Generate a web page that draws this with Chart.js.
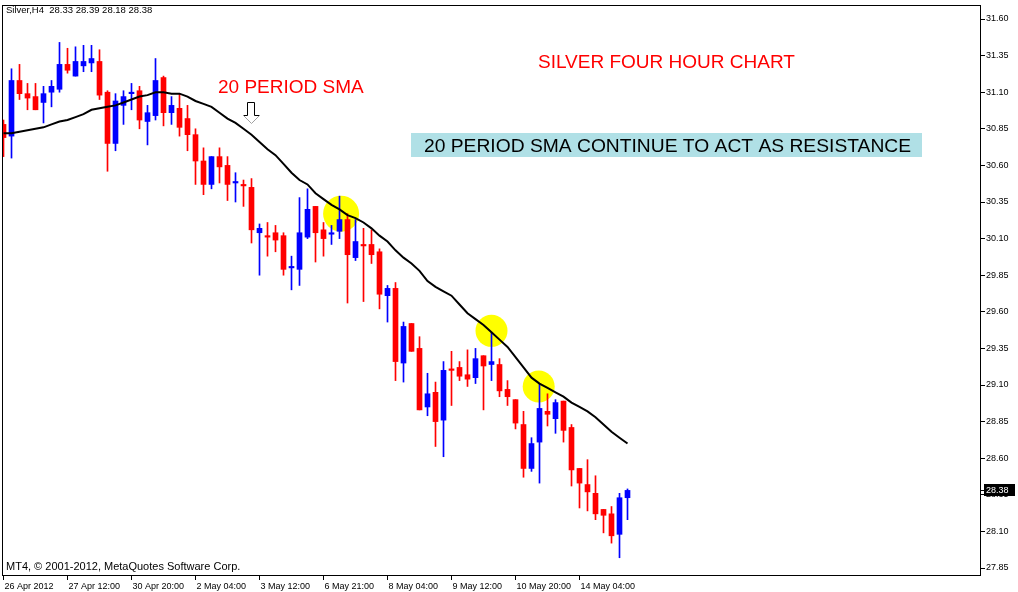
<!DOCTYPE html>
<html>
<head>
<meta charset="utf-8">
<script src="https://cdn.jsdelivr.net/npm/chart.js@4.4.1/dist/chart.umd.min.js"></script>
<style>
  html, body { margin: 0; padding: 0; background: #fff; }
</style>
</head>
<body>
<canvas id="chart" width="1018" height="592"></canvas>
<script>
// H4 candles, Silver, 26 Apr - 15 May 2012
const open = [
  30.88, 30.80, 31.18, 31.09, 31.07, 31.03, 31.10, 31.12, 31.29, 31.21,
  31.28, 31.30, 31.31, 31.10, 30.75, 31.01, 31.09, 31.11, 30.90, 30.94,
  31.20, 30.96, 30.99, 30.92, 30.81, 30.63, 30.47, 30.66, 30.60, 30.48,
  30.47, 30.45, 30.14, 30.12, 30.14, 30.12, 29.90, 29.89, 30.11, 30.32,
  30.16, 30.13, 30.15, 30.23, 29.97, 30.06, 30.06, 30.01, 29.71, 29.76,
  29.25, 29.52, 29.35, 28.95, 29.05, 28.86, 29.21, 29.22, 29.17, 29.15,
  29.30, 29.24, 29.24, 29.07, 29.00, 28.83, 28.53, 28.71, 28.92, 28.87,
  28.99, 28.81, 28.53, 28.42, 28.36, 28.25, 28.22, 28.08, 28.33
];
const high = [
  30.91, 31.26, 31.29, 31.16, 31.16, 31.14, 31.18, 31.44, 31.40, 31.41,
  31.42, 31.42, 31.39, 31.11, 31.09, 31.11, 31.16, 31.14, 31.01, 31.33,
  31.21, 31.07, 31.09, 31.01, 30.85, 30.72, 30.66, 30.72, 30.66, 30.55,
  30.50, 30.51, 30.20, 30.21, 30.19, 30.14, 29.98, 30.38, 30.44, 30.32,
  30.21, 30.19, 30.39, 30.27, 30.23, 30.17, 30.16, 30.03, 29.78, 29.80,
  29.53, 29.52, 29.43, 29.18, 29.12, 29.26, 29.33, 29.26, 29.34, 29.35,
  29.30, 29.46, 29.28, 29.13, 29.00, 28.92, 28.74, 29.11, 29.04, 29.00,
  28.99, 28.83, 28.53, 28.59, 28.48, 28.25, 28.27, 28.36, 28.39
];
const low = [
  30.66, 30.65, 31.05, 30.98, 30.98, 30.89, 31.00, 31.10, 31.23, 31.21,
  31.24, 31.24, 31.05, 30.56, 30.70, 30.88, 30.98, 30.85, 30.74, 30.91,
  30.87, 30.88, 30.80, 30.70, 30.47, 30.40, 30.44, 30.48, 30.36, 30.35,
  30.32, 30.07, 29.85, 29.98, 30.01, 29.85, 29.75, 29.78, 30.10, 29.94,
  29.98, 30.06, 30.10, 29.66, 29.95, 29.67, 29.93, 29.62, 29.53, 29.13,
  29.12, 29.33, 28.93, 28.89, 28.68, 28.61, 28.96, 29.13, 29.09, 29.11,
  28.93, 29.13, 29.02, 28.96, 28.80, 28.47, 28.51, 28.43, 28.82, 28.77,
  28.71, 28.41, 28.26, 28.24, 28.18, 28.09, 28.02, 27.92, 28.18
];
const close = [
  30.79, 31.18, 31.09, 31.06, 30.98, 31.09, 31.14, 31.29, 31.25, 31.31,
  31.31, 31.33, 31.08, 30.75, 31.04, 31.07, 31.10, 30.91, 30.96, 31.18,
  30.96, 31.01, 30.86, 30.81, 30.63, 30.47, 30.66, 30.59, 30.47, 30.49,
  30.46, 30.16, 30.17, 30.11, 30.09, 29.89, 29.91, 30.14, 30.30, 30.14,
  30.10, 30.14, 30.23, 29.99, 30.08, 30.05, 29.99, 29.72, 29.76, 29.26,
  29.50, 29.33, 28.93, 29.04, 28.85, 29.20, 29.20, 29.16, 29.14, 29.28,
  29.23, 29.26, 29.06, 29.02, 28.84, 28.53, 28.70, 28.94, 28.90, 28.98,
  28.79, 28.52, 28.43, 28.37, 28.22, 28.21, 28.07, 28.33, 28.38
];
// 20 period SMA as drawn on the chart
const sma20 = [
  30.82, 30.82, 30.83, 30.84, 30.85, 30.86, 30.88, 30.90, 30.91, 30.93,
  30.95, 30.98, 30.99, 31.00, 31.01, 31.03, 31.05, 31.07, 31.08, 31.10,
  31.10, 31.09, 31.09, 31.07, 31.04, 31.02, 31.00, 30.96, 30.92, 30.89,
  30.85, 30.81, 30.76, 30.71, 30.67, 30.61, 30.55, 30.50, 30.47, 30.41,
  30.37, 30.33, 30.30, 30.26, 30.24, 30.21, 30.17, 30.12, 30.08, 30.02,
  29.97, 29.93, 29.88, 29.81, 29.77, 29.74, 29.71, 29.65, 29.59, 29.55,
  29.51, 29.46, 29.41, 29.36, 29.29, 29.22, 29.15, 29.11, 29.08, 29.05,
  29.02, 28.98, 28.95, 28.92, 28.88, 28.83, 28.78, 28.74, 28.70
];

// time axis: one label every 8 bars
const xTickIdx = [0, 8, 16, 24, 32, 40, 48, 56, 64, 72];
const xTickLabels = [
  "26 Apr 2012", "27 Apr 12:00", "30 Apr 20:00", "2 May 04:00", "3 May 12:00",
  "6 May 21:00", "8 May 04:00", "9 May 12:00", "10 May 20:00", "14 May 04:00"
];
const yTicks = [
  27.85, 28.10, 28.35, 28.60, 28.85, 29.10, 29.35, 29.60,
  29.85, 30.10, 30.35, 30.60, 30.85, 31.10, 31.35, 31.60
];

// yellow highlight circles (bar index, price)
const circleIdx = [42.2, 61.0, 66.9];
const circlePrice = [30.27, 29.47, 29.09];

const BLUE = "#0000ff";
const RED = "#ff0000";
const FONT = '"Liberation Sans", Arial, sans-serif';

const idx = open.map((_, i) => i);
const candleColor = idx.map(i => close[i] > open[i] ? BLUE : RED);
const last = open.length - 1;

const overlay = {
  id: "overlay",
  afterDraw(chart) {
    const { ctx, chartArea: a, scales: { y } } = chart;
    ctx.save();

    // chart frame
    ctx.strokeStyle = "#000";
    ctx.lineWidth = 1;
    ctx.strokeRect(a.left + 0.5, a.top + 0.5, a.right - a.left - 1, a.bottom - a.top - 1);

    // header and copyright
    ctx.fillStyle = "#000";
    ctx.textBaseline = "alphabetic";
    ctx.font = "9.5px " + FONT;
    ctx.fillText("Silver,H4  " + [open[last], high[last], low[last], close[last]].map(v => v.toFixed(2)).join(" "), 6, 13);
    ctx.font = "11px " + FONT;
    ctx.fillText("MT4, \u00a9 2001-2012, MetaQuotes Software Corp.", 6, 570);

    // notes
    ctx.fillStyle = RED;
    ctx.font = "19px " + FONT;
    ctx.fillText("SILVER FOUR HOUR CHART", 538, 68);
    ctx.fillText("20 PERIOD SMA", 218, 93);

    ctx.fillStyle = "#b0e0e6";
    ctx.fillRect(411, 133, 511, 24);
    ctx.fillStyle = "#000";
    ctx.font = "19.25px " + FONT;
    ctx.fillText("20 PERIOD SMA CONTINUE TO ACT AS RESISTANCE", 424, 152);

    // arrow below the SMA label
    ctx.beginPath();
    ctx.moveTo(243.5, 115.5);
    ctx.lineTo(247.5, 115.5);
    ctx.lineTo(247.5, 102.5);
    ctx.lineTo(254.5, 102.5);
    ctx.lineTo(254.5, 115.5);
    ctx.lineTo(259.5, 115.5);
    ctx.strokeStyle = "#000";
    ctx.stroke();
    ctx.beginPath();
    ctx.moveTo(243.5, 115.5);
    ctx.lineTo(251.5, 123.5);
    ctx.lineTo(259.5, 115.5);
    ctx.strokeStyle = "#a0a0a0";
    ctx.stroke();

    // last price marker
    const py = Math.round(y.getPixelForValue(close[last]));
    ctx.fillStyle = "#000";
    ctx.fillRect(a.right, py, 4, 1);
    ctx.fillRect(a.right + 3, py - 6, 31, 12);
    ctx.fillStyle = "#fff";
    ctx.font = "9px " + FONT;
    ctx.textBaseline = "middle";
    ctx.fillText(close[last].toFixed(2), a.right + 5, py + 0.5);

    ctx.restore();
  }
};

new Chart(document.getElementById("chart"), {
  type: "bar",
  data: {
    datasets: [
      {
        type: "line",
        label: "SMA 20",
        data: idx.map(i => ({ x: i, y: sma20[i] })),
        borderColor: "#000",
        borderWidth: 2,
        pointRadius: 0,
        tension: 0,
        clip: 0,
        order: 0
      },
      {
        label: "body",
        data: idx.map(i => ({ x: i, y: [open[i], close[i]] })),
        backgroundColor: candleColor,
        barThickness: 5,
        minBarLength: 1,
        grouped: false,
        clip: 0,
        order: 1
      },
      {
        label: "wick",
        data: idx.map(i => ({ x: i, y: [low[i], high[i]] })),
        backgroundColor: candleColor,
        barThickness: 1,
        grouped: false,
        clip: 0,
        order: 2
      },
      {
        type: "scatter",
        label: "highlight",
        data: circleIdx.map((x, k) => ({ x: x, y: circlePrice[k] })),
        backgroundColor: "#ffff00",
        borderWidth: 0,
        pointRadius: [18, 16, 16],
        order: 3
      }
    ]
  },
  options: {
    responsive: false,
    animation: false,
    events: [],
    layout: { autoPadding: false, padding: { left: 2, top: 5, right: 0, bottom: 0 } },
    plugins: {
      legend: { display: false },
      tooltip: { enabled: false }
    },
    scales: {
      x: {
        type: "linear",
        min: -0.1875,
        max: 122.1875,
        offset: false,
        border: { display: false },
        grid: { offset: false, drawOnChartArea: false, drawTicks: true, tickLength: 4, color: "#000" },
        ticks: {
          autoSkip: false,
          maxRotation: 0,
          minRotation: 0,
          align: "start",
          labelOffset: 1,
          padding: 1,
          color: "#000",
          font: { family: FONT, size: 9 },
          callback: v => xTickLabels[xTickIdx.indexOf(v)]
        },
        afterBuildTicks: s => { s.ticks = xTickIdx.map(v => ({ value: v })); },
        afterFit: s => { s.height = 16; s.paddingLeft = 0; s.paddingRight = 0; }
      },
      y: {
        position: "right",
        min: 27.79536,
        max: 31.69563,
        border: { display: false },
        grid: { drawOnChartArea: false, drawTicks: true, tickLength: 4, color: "#000" },
        ticks: {
          padding: 1,
          color: "#000",
          font: { family: FONT, size: 9 },
          callback: v => v.toFixed(2)
        },
        afterBuildTicks: s => { s.ticks = yTicks.map(v => ({ value: v })); },
        afterFit: s => { s.width = 37; s.paddingTop = 0; s.paddingBottom = 0; }
      }
    }
  },
  plugins: [overlay]
});
</script>
</body>
</html>
